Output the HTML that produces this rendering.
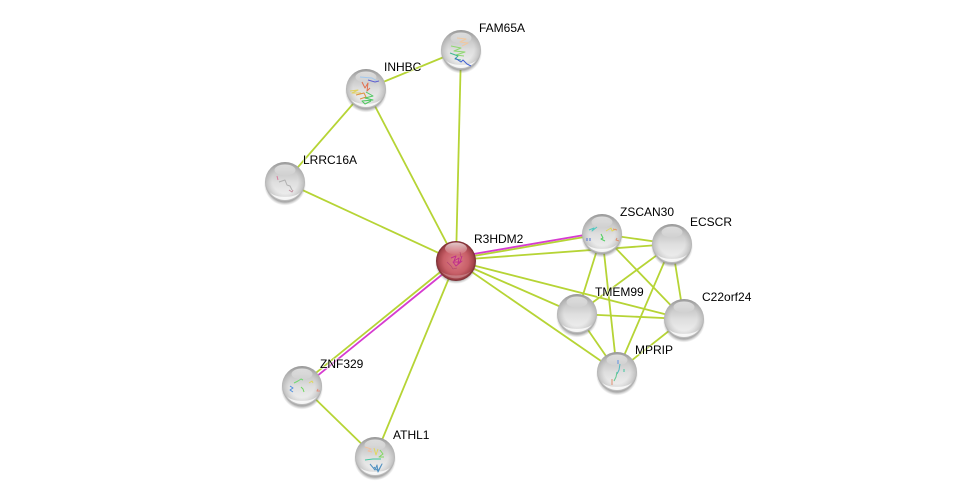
<!DOCTYPE html>
<html>
<head>
<meta charset="utf-8">
<style>
html,body{margin:0;padding:0;background:#fff;width:976px;height:502px;overflow:hidden}
svg{display:block}
text{font-family:"Liberation Sans",sans-serif;font-size:12px;fill:#000;paint-order:stroke;stroke:#fff;stroke-opacity:.55;stroke-width:2px}
.e{stroke:#b6d435;stroke-width:1.8;fill:none}
.m{stroke:#d63cd0;stroke-width:1.8;fill:none}
.p{fill:none;stroke-width:1;stroke-linejoin:round}
</style>
</head>
<body>
<svg width="976" height="502" viewBox="0 0 976 502" xmlns="http://www.w3.org/2000/svg">
<defs>
<linearGradient id="base" x1="0" y1="0" x2="0" y2="1">
<stop offset="0" stop-color="#a2a2a2"/>
<stop offset=".2" stop-color="#c4c4c4"/>
<stop offset=".5" stop-color="#dedede"/>
<stop offset=".8" stop-color="#ececec"/>
<stop offset="1" stop-color="#f6f6f6"/>
</linearGradient>
<radialGradient id="rim" cx="50%" cy="46%" r="54%">
<stop offset=".6" stop-color="#888" stop-opacity="0"/>
<stop offset=".88" stop-color="#777" stop-opacity=".3"/>
<stop offset="1" stop-color="#555" stop-opacity=".55"/>
</radialGradient>
<radialGradient id="r" cx="50%" cy="50%" r="52%">
<stop offset="0" stop-color="#dc7f88"/>
<stop offset=".6" stop-color="#c85f68"/>
<stop offset=".85" stop-color="#a4444b"/>
<stop offset="1" stop-color="#642226"/>
</radialGradient>
<linearGradient id="hl" x1="0" y1="0" x2="0" y2="1">
<stop offset="0" stop-color="#fff" stop-opacity=".9"/>
<stop offset="1" stop-color="#fff" stop-opacity=".05"/>
</linearGradient>
<radialGradient id="sh" cx="50%" cy="50%" r="50%">
<stop offset=".8" stop-color="#555" stop-opacity=".65"/>
<stop offset="1" stop-color="#888" stop-opacity="0"/>
</radialGradient>
<g id="ball">
<ellipse cx="0" cy="2.500" rx="21" ry="21" fill="url(#sh)"/>
<circle r="20" fill="url(#base)"/>
<circle r="20" fill="url(#rim)"/>
<path d="M-15.500 10A19 19 0 0 0 15.500 10C10 16.500 -10 16.500 -15.500 10Z" fill="#fff" opacity=".8"/>
<ellipse cx="0" cy="-12" rx="10.500" ry="5.500" fill="url(#hl)" opacity=".7"/>
</g>
</defs>

<!-- yellow-green edges -->
<path class="e" d="M461 50L366 89"/>
<path class="e" d="M461 50L456 261"/>
<path class="e" d="M366 89L285 182"/>
<path class="e" d="M366 89L456 261"/>
<path class="e" d="M285 182L456 261"/>
<path class="e" d="M456 259L602 234"/>
<path class="e" d="M456 260L672 244"/>
<path class="e" d="M456 261L577 314"/>
<path class="e" d="M456 261L684 319"/>
<path class="e" d="M456 261L617 372"/>
<path class="e" d="M456 261L375 457"/>
<path class="e" d="M455 260L301 385"/>
<path class="e" d="M302 386L375 457"/>
<path class="e" d="M602 234L672 244"/>
<path class="e" d="M602 234L577 314"/>
<path class="e" d="M602 234L684 319"/>
<path class="e" d="M602 234L617 372"/>
<path class="e" d="M672 244L577 314"/>
<path class="e" d="M672 244L684 319"/>
<path class="e" d="M672 244L617 372"/>
<path class="e" d="M577 314L684 319"/>
<path class="e" d="M577 314L617 372"/>
<path class="e" d="M684 319L617 372"/>
<!-- magenta edges -->
<path class="m" d="M456 257L602 232"/>
<path class="m" d="M457 262.500L303 387.500"/>

<!-- nodes -->
<use href="#ball" x="461" y="50"/>
<g class="p">
<path stroke="#f0c8a0" d="M457 38l9 1-6 3 8 1-6 3"/>
<path stroke="#8fd870" d="M451 46l10 2-7 3 11 1-9 3 8 1"/>
<path stroke="#40b890" d="M450 53l8 3-3 3 6 1"/>
<path stroke="#4060d0" d="M455 58l6 4 2-2 4 4 4 2"/>
</g>

<use href="#ball" x="366" y="89"/>
<g class="p">
<path stroke="#a0c8f0" d="M360 77l12 1 5 3"/>
<path stroke="#6060d0" d="M368 80l7 2 4-1"/>
<path stroke="#e07050" d="M362 82l3 6 3-5-1 8 3-3"/>
<path stroke="#e0d060" d="M350 91l8-1-6 3 9 0"/>
<path stroke="#e09040" d="M356 95l8-2 2 4-6 2"/>
<path stroke="#50c860" d="M366 92l7 4-8 2 8 2-11 1 3 3 6-3"/>
</g>

<use href="#ball" x="285" y="182"/>
<g class="p" stroke-width=".7">
<path stroke="#d880a0" d="M277 176l1 4"/>
<path stroke="#b0b0b0" d="M279 182l6-2 2 5 3 1 2 4"/>
<path stroke="#c090a0" d="M289 190l3 2 1-2"/>
</g>

<circle cx="456" cy="263" r="21" fill="url(#sh)"/>
<circle cx="456" cy="261" r="20" fill="url(#r)"/>
<ellipse cx="456" cy="248.500" rx="11" ry="6" fill="url(#hl)" opacity=".8"/>
<path d="M441 271A19 19 0 0 0 471 271C465 277 447 277 441 271Z" fill="#fff" opacity=".25"/>
<g class="p">
<path stroke="#c0308a" d="M451 258l5-2-2 5 5-3-1 6 4-3-6 5-3-4 7 0 2-6"/>
<path stroke="#b04070" stroke-width=".6" d="M447 262l4 4 2 3 4-1M460 252l1 5"/>
</g>

<use href="#ball" x="602" y="234"/>
<g class="p">
<path stroke="#50c8c0" d="M589 230l5-2-2 3 5-4"/>
<path stroke="#e0d860" d="M606 231l5-3 1 3 4-2"/>
<path stroke="#e09070" d="M613 229l4 1M617 238l-1 2 3 1"/>
<path stroke="#50d060" d="M601 234l2 4-2 1 4 2"/>
<path stroke="#5070d0" d="M587 238v3M590 238v3"/>
</g>

<use href="#ball" x="672" y="244"/>
<use href="#ball" x="577" y="314"/>
<use href="#ball" x="684" y="319"/>

<use href="#ball" x="617" y="372"/>
<g class="p">
<path stroke="#6090e0" d="M618 360v4"/>
<path stroke="#50b8c0" d="M620 364l-1 6-2 4"/>
<path stroke="#60c890" d="M617 372l-1 5-2 4"/>
<path stroke="#e09070" d="M612 379v6"/>
<path stroke="#40c8a0" d="M624 369v3"/>
</g>

<use href="#ball" x="302" y="386"/>
<g class="p">
<path stroke="#70d870" d="M294 383l4-2 3-2 2 1"/>
<path stroke="#5090e0" d="M290 386l3 2-3 2 3 2"/>
<path stroke="#e0d860" d="M309 383l3-2 1 2"/>
<path stroke="#70d860" d="M301 387l2 2 1 3"/>
<path stroke="#e09080" d="M318 389l-1 2 3 0"/>
</g>

<use href="#ball" x="375" y="457"/>
<g class="p">
<path stroke="#f0c0a0" d="M365 447l6 2-3 2 4 1"/>
<path stroke="#e0d860" d="M374 448l2 7 2-6"/>
<path stroke="#80d860" d="M380 450l3 4-4 3 5 0"/>
<path stroke="#40c8a0" d="M365 460l8-1 8 0"/>
<path stroke="#5090c0" d="M370 464l5 6 2-5 1 7 4-8-4 7-4-4"/>
</g>

<!-- labels -->
<text x="479" y="32">FAM65A</text>
<text x="384" y="71">INHBC</text>
<text x="303" y="164">LRRC16A</text>
<text x="474" y="243">R3HDM2</text>
<text x="620" y="216">ZSCAN30</text>
<text x="690" y="226">ECSCR</text>
<text x="595" y="296">TMEM99</text>
<text x="702" y="301">C22orf24</text>
<text x="635" y="354">MPRIP</text>
<text x="320" y="368">ZNF329</text>
<text x="393" y="439">ATHL1</text>
</svg>
</body>
</html>
